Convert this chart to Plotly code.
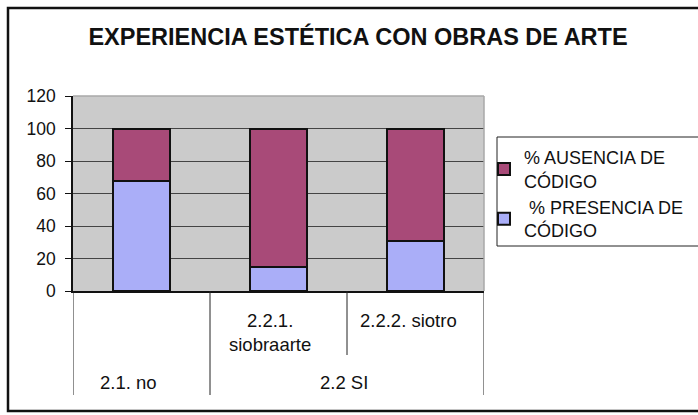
import plotly.graph_objects as go

categories = ["2.1. no", "2.2.1. siobraarte", "2.2.2. siotro"]
presencia = [68, 15, 31]
ausencia = [32, 85, 69]
y_ticks = [0, 20, 40, 60, 80, 100, 120]
title_text = "EXPERIENCIA ESTÉTICA CON OBRAS DE ARTE"
name_pres = "\u00a0% PRESENCIA DE<br>CÓDIGO"
name_aus = "% AUSENCIA DE<br>CÓDIGO"
sub_labels = ["", "2.2.1.<br>siobraarte", "2.2.2. siotro"]
group_labels = [("2.1. no", 0), ("2.2 SI", 1.5)]

FONT = "Liberation Sans, Arial, sans-serif"
W, H = 698, 415
L, R, T, B = 73, 698 - 484, 96, 415 - 291
PH = H - T - B
PW = W - L - R

def py(pix):
    return (H - B - pix) / PH

def px(pix):
    return (pix - L) / PW

fig = go.Figure()
fig.add_trace(go.Bar(x=categories, y=presencia, name=name_pres, legendgroup="p",
                     marker=dict(color="#aaaef8", line=dict(color="#111111", width=2))))
fig.add_trace(go.Bar(x=categories, y=ausencia, name=name_aus, legendgroup="a",
                     marker=dict(color="#a84a78", line=dict(color="#111111", width=2))))

shapes = []
shapes.append(dict(type="line", xref="paper", yref="paper", x0=0, x1=1, y0=1, y1=1,
                   line=dict(color="#a8a8a8", width=1.5)))
shapes.append(dict(type="line", xref="paper", yref="paper", x0=1, x1=1, y0=0, y1=1,
                   line=dict(color="#a8a8a8", width=1.5)))
for xv, ybot in [(-0.5, 395), (0.5, 395), (1.5, 355), (2.5, 395)]:
    shapes.append(dict(type="line", xref="x", yref="paper", x0=xv, x1=xv, y0=0, y1=py(ybot),
                       line=dict(color="#222222", width=1)))
shapes.append(dict(type="rect", xref="paper", yref="paper", x0=px(8), x1=px(720), y0=py(8), y1=py(411),
                   line=dict(color="#111111", width=2.5), fillcolor="rgba(0,0,0,0)"))
shapes.append(dict(type="rect", xref="paper", yref="paper", x0=px(497), x1=px(720), y0=py(137), y1=py(246),
                   line=dict(color="#222222", width=1), fillcolor="rgba(0,0,0,0)"))

sub_shift = [0, -9, -7]
group_shift = [-13, -3]
annotations = []
for i, lab in enumerate(sub_labels):
    if lab:
        annotations.append(dict(x=i, y=py(308), xref="x", yref="paper", text=lab, showarrow=False,
                                xshift=sub_shift[i],
                                yanchor="top", xanchor="center", font=dict(size=18.5, color="#111111", family=FONT)))
for (lab, xv), sh in zip(group_labels, group_shift):
    annotations.append(dict(x=xv, y=py(382), xref="x", yref="paper", text=lab, showarrow=False,
                            xshift=sh,
                            yanchor="middle", xanchor="center", font=dict(size=18.5, color="#111111", family=FONT)))

fig.update_layout(
    width=W, height=H,
    margin=dict(l=L, r=R, t=T, b=B, autoexpand=False),
    barmode="stack", bargap=0.59,
    paper_bgcolor="white", plot_bgcolor="#cbcbcb",
    font=dict(family=FONT, size=17, color="#111111"),
    title=dict(text="<b>" + title_text + "</b>", x=px(358), xanchor="center", xref="paper",
               y=1 - 37 / H, yanchor="middle", font=dict(size=23.5, color="#111111", family=FONT)),
    xaxis=dict(showticklabels=False, showgrid=False, showline=True, linecolor="#111111", linewidth=1.5,
               ticks="", range=[-0.5, 2.5], fixedrange=True),
    yaxis=dict(range=[0, 120], tickvals=y_ticks, ticks="outside", ticklen=6, tickcolor="#111111",
               showline=True, linecolor="#111111", linewidth=1.5, gridcolor="#444444", gridwidth=1,
               zeroline=False, tickfont=dict(size=17.5, color="#111111"), ticklabelstandoff=6),
    legend=dict(x=px(484), y=py(139), xref="paper", yref="paper", xanchor="left", yanchor="top",
                traceorder="reversed", font=dict(size=18, color="#111111"), bgcolor="rgba(0,0,0,0)",
                tracegroupgap=12),
    shapes=shapes, annotations=annotations,
)

fig.write_html("out.html", config={"displayModeBar": False},
               post_script="document.body.style.margin='0';document.body.style.padding='0';")
